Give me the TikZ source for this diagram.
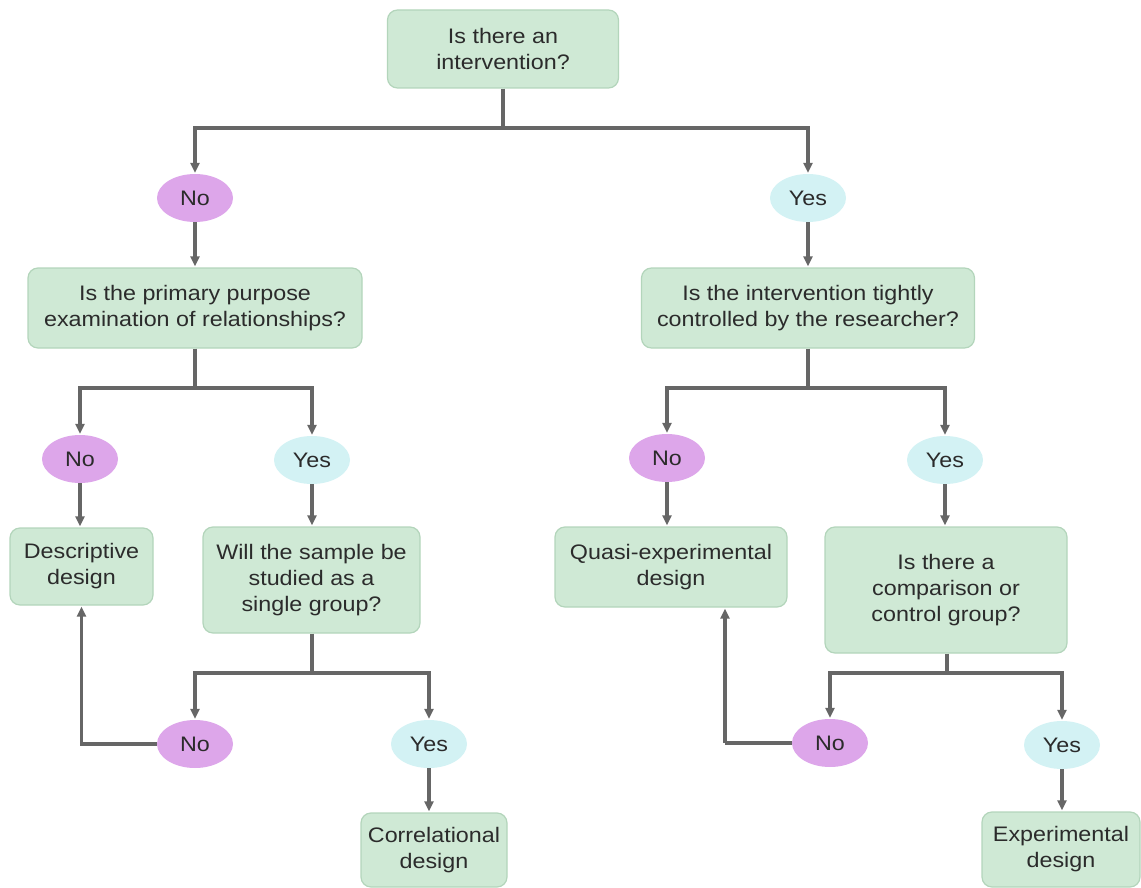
\documentclass[tikz,border=0pt]{standalone}
\usepackage{fontspec}
\setmainfont[FakeStretch=1.11]{Liberation Sans}
\usetikzlibrary{arrows.meta,shapes.geometric}
\definecolor{boxfill}{HTML}{CFE9D5}
\definecolor{boxedge}{HTML}{B3D5BB}
\definecolor{nofill}{HTML}{DDA6EA}
\definecolor{yesfill}{HTML}{D3F2F4}
\definecolor{linegray}{HTML}{666666}
\definecolor{txt}{HTML}{2B2B2B}
\tikzset{
  qbox/.style={draw=boxedge, line width=1.2pt, fill=boxfill, rounded corners=10pt,
    align=center, text=txt, inner sep=0pt,
    font=\fontsize{21}{26}\selectfont},
  nobub/.style={ellipse, fill=nofill, minimum width=76pt, minimum height=48pt,
    inner sep=0pt, text=txt, font=\fontsize{21}{26}\selectfont},
  yesbub/.style={nobub, fill=yesfill},
  link/.style={draw=linegray, line width=3.2pt},
  arr/.style={link, -{Triangle[length=10pt,width=9pt]}, shorten >=1pt},
}
\begin{document}
\begin{tikzpicture}[x=1pt,y=-1pt]
\useasboundingbox (0,0) rectangle (1141,888);

% question and outcome boxes
\node[qbox, minimum width=231pt, minimum height=78pt] (top) at (503,49) {Is there an\\intervention?};
\node[qbox, minimum width=334pt, minimum height=80pt] (q1) at (195,308) {Is the primary purpose\\examination of relationships?};
\node[qbox, minimum width=333pt, minimum height=80pt] (q2) at (808,308) {Is the intervention tightly\\controlled by the researcher?};
\node[qbox, minimum width=143pt, minimum height=77pt] (desc) at (81.5,566.5) {Descriptive\\design};
\node[qbox, minimum width=217pt, minimum height=106pt] (will) at (311.5,580) {Will the sample be\\studied as a\\single group?};
\node[qbox, minimum width=232pt, minimum height=80pt] (quasi) at (671,567) {Quasi-experimental\\design};
\node[qbox, minimum width=242pt, minimum height=126pt] (comp) at (946,590) {Is there a\\comparison or\\control group?};
\node[qbox, minimum width=146pt, minimum height=74pt] (corr) at (434,850) {Correlational\\design};
\node[qbox, minimum width=158pt, minimum height=75pt] (exp) at (1061,849.5) {Experimental\\design};

% answer bubbles
\node[nobub] (no1) at (195,198) {No};
\node[yesbub] (yes1) at (808,198) {Yes};
\node[nobub] (no2) at (80,459) {No};
\node[yesbub] (yes2) at (312,460) {Yes};
\node[nobub] (no3) at (667,458) {No};
\node[yesbub] (yes3) at (945,460) {Yes};
\node[nobub] (no4) at (195,744) {No};
\node[yesbub] (yes4) at (429,744) {Yes};
\node[nobub] (no5) at (830,743) {No};
\node[yesbub] (yes5) at (1062,745) {Yes};

% branch points
\coordinate (j0) at (503,128);
\coordinate (j1) at (195,388);
\coordinate (j2) at (808,388);
\coordinate (j3) at (312,673);
\coordinate (j4) at (947,673);
\coordinate (b5) at (725,743);

% top split
\draw[link] (top.south) -- (j0);
\draw[arr] (j0) -| (no1.north);
\draw[arr] (j0) -| (yes1.north);
\draw[arr] (no1.south) -- (q1.north);
\draw[arr] (yes1.south) -- (q2.north);

% left split
\draw[link] (q1.south) -- (j1);
\draw[arr] (j1) -| (no2.north);
\draw[arr] (j1) -| (yes2.north);
\draw[arr] (no2.south) -- (no2 |- desc.north);
\draw[arr] (yes2.south) -- (yes2 |- will.north);

% right split
\draw[link] (q2.south) -- (j2);
\draw[arr] (j2) -| (no3.north);
\draw[arr] (j2) -| (yes3.north);
\draw[arr] (no3.south) -- (no3 |- quasi.north);
\draw[arr] (yes3.south) -- (yes3 |- comp.north);

% single group split
\draw[link] (j3 |- will.south) -- (j3);
\draw[arr] (j3) -| (no4.north);
\draw[arr] (j3) -| (yes4.north);
\draw[arr] (no4.west) -| (desc.south);
\draw[arr] (yes4.south) -- (yes4 |- corr.north);

% comparison group split
\draw[link] (j4 |- comp.south) -- (j4);
\draw[arr] (j4) -| (no5.north);
\draw[arr] (j4) -| (yes5.north);
\draw[link] (no5.west) -- (b5);
\draw[arr] (b5) -- (b5 |- quasi.south);
\draw[arr] (yes5.south) -- (yes5 |- exp.north);
\end{tikzpicture}
\end{document}
